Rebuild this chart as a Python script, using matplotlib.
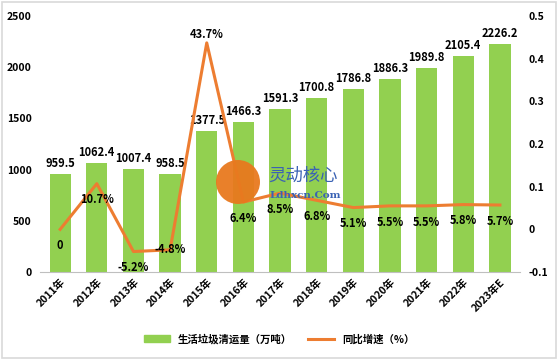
import matplotlib
matplotlib.use("Agg")
import matplotlib.pyplot as plt
from matplotlib.patches import Circle, Rectangle
from matplotlib.lines import Line2D

plt.rcParams['font.family'] = ['Noto Sans CJK SC', 'DejaVu Sans']

years = ["2011年", "2012年", "2013年", "2014年", "2015年", "2016年", "2017年",
         "2018年", "2019年", "2020年", "2021年", "2022年", "2023年E"]
volume = [959.5, 1062.4, 1007.4, 958.5, 1377.5, 1466.3, 1591.3,
          1700.8, 1786.8, 1886.3, 1989.8, 2105.4, 2226.2]
growth = [0, 0.107, -0.052, -0.048, 0.437, 0.064, 0.085,
          0.068, 0.051, 0.055, 0.055, 0.058, 0.057]
growth_labels = ["0", "10.7%", "-5.2%", "-4.8%", "43.7%", "6.4%", "8.5%",
                 "6.8%", "5.1%", "5.5%", "5.5%", "5.8%", "5.7%"]

green = "#92D050"
orange = "#ED7D31"

fig = plt.figure(figsize=(5.58, 3.6), dpi=100)
fig.patches.append(Rectangle((0.004, 0.006), 0.992, 0.988, transform=fig.transFigure,
                             fill=False, edgecolor="#d9d9d9", linewidth=1.2))
ax = fig.add_axes([0.0717, 0.2444, 0.8603, 0.7112])
x = list(range(len(years)))
ax.bar(x, volume, width=0.58, color=green, zorder=2)
ax.set_ylim(0, 2500)
ax.set_xlim(-0.55, 12.55)
ax.set_yticks([0, 500, 1000, 1500, 2000, 2500])
for s in ["top", "right", "left"]:
    ax.spines[s].set_visible(False)
ax.spines["bottom"].set_color("#bfbfbf")
ax.tick_params(axis="both", length=0, labelsize=7.5)
ax.tick_params(axis="y", pad=6)
ax.set_xticks(x)
ax.set_xticklabels(years, rotation=45, ha="right", rotation_mode="anchor", fontweight="bold")
for lbl in ax.get_yticklabels():
    lbl.set_fontweight("bold")
for xi, v in zip(x, volume):
    ax.annotate(f"{v:.1f}", (xi, v), xytext=(0, 3), textcoords="offset points",
                ha="center", va="bottom", fontsize=8, fontweight="bold")

ax2 = ax.twinx()
ax2.set_ylim(-0.1, 0.5)
ax2.set_yticks([-0.1, 0, 0.1, 0.2, 0.3, 0.4, 0.5])
ax2.set_yticklabels(["-0.1", "0", "0.1", "0.2", "0.3", "0.4", "0.5"], fontweight="bold")
for s in ["top", "right", "left", "bottom"]:
    ax2.spines[s].set_visible(False)
ax2.tick_params(axis="y", length=0, labelsize=7.5, pad=6)
ax2.plot(x, growth, color=orange, linewidth=2.2, zorder=3)
for i, (xi, g, t) in enumerate(zip(x, growth, growth_labels)):
    if i == 4:
        off, va = (0, 1), "bottom"
    elif i == 3:
        off, va = (0, 0), "center"
    else:
        off, va = (0, -7), "top"
    ax2.annotate(t, (xi, g), xytext=off, textcoords="offset points",
                 ha="center", va=va, fontsize=8, fontweight="bold", zorder=5)

# watermark
fig.patches.append(Circle((2.38, 1.78), 0.22, transform=fig.dpi_scale_trans,
                          facecolor="#E8791E", edgecolor="none", zorder=10, alpha=0.95))
fig.text(268/558, 1-176/360, "灵动核心", color="#3A62B4", fontsize=12.5, va="center", ha="left", zorder=11)
fig.text(269/558, 1-196/360, "Ldhxcn.Com", color="#3A62B4", fontsize=7.5, va="center", ha="left",
         family="DejaVu Serif", fontweight="bold", zorder=11)

handles = [Rectangle((0, 0), 1, 1, color=green),
           Line2D([0], [0], color=orange, linewidth=2.2)]
fig.legend(handles, ["生活垃圾清运量（万吨）", "同比增速（%）"], loc="center",
           bbox_to_anchor=(0.5, 1-339/360), ncol=2, frameon=False,
           prop={"size": 7.5, "weight": "bold"}, handlelength=2.5, columnspacing=1.5)

fig.savefig("out.png", dpi=100)
